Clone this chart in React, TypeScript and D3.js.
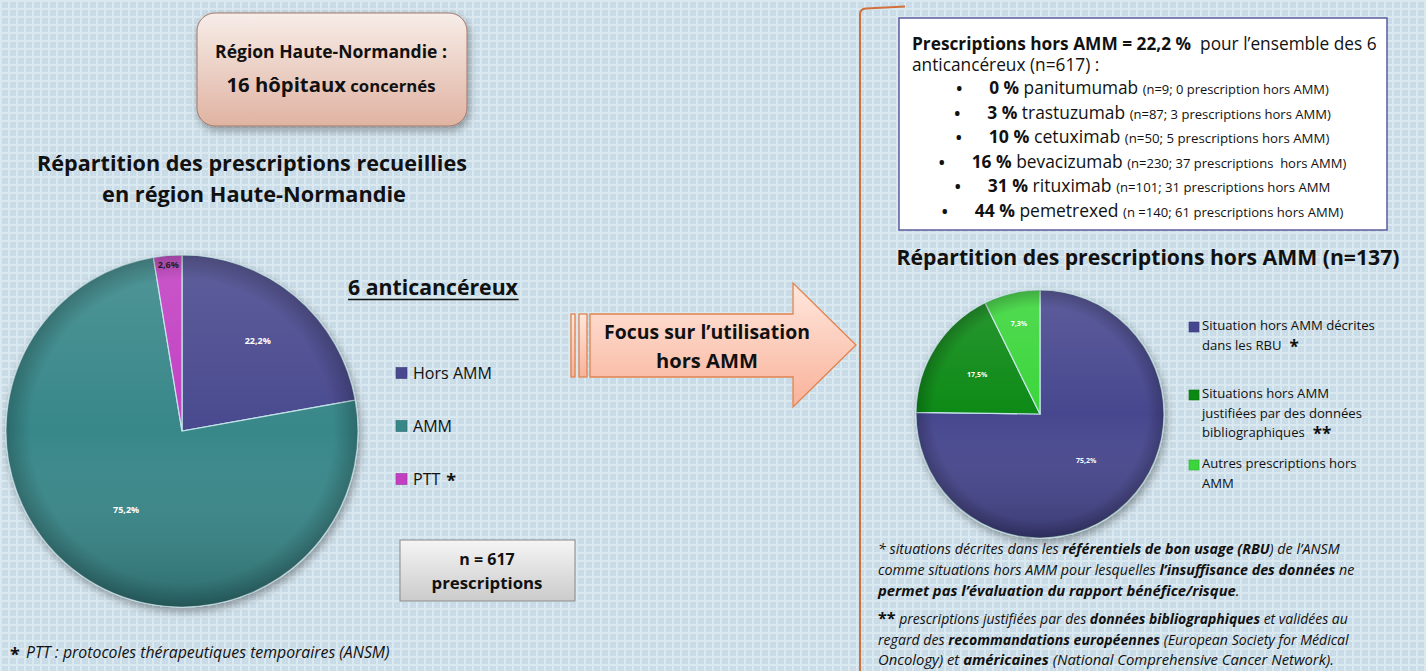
import React, { useEffect, useRef } from 'react';
import * as d3 from 'd3';

const W = 1426;
const H = 671;
const FONT = "'Open Sans', Lato, sans-serif";

// left pie : all prescriptions (n=617)
const allCategories = ['Hors AMM', 'AMM', 'PTT'];
const allValues = [22.2, 75.2, 2.6];
const allColors = ['#49498f', '#378789', '#c23fc2'];
const allMarks = ['', '', '*'];

// right pie : off-label prescriptions (n=137)
const horsLegend = [
  ['Situation hors AMM décrites', 'dans les RBU'],
  ['Situations hors AMM', 'justifiées par des données', 'bibliographiques'],
  ['Autres prescriptions hors', 'AMM'],
];
const horsMarks = ['*', '**', ''];
const horsValues = [75.2, 17.5, 7.3];
const horsColors = ['#47478f', '#0a8a12', '#3bd63b'];

// per-drug off-label rates
const drugPct = [0, 3, 10, 16, 31, 44];
const drugNames = ['panitumumab', 'trastuzumab', 'cetuximab', 'bevacizumab', 'rituximab', 'pemetrexed'];
const drugNotes = [
  '(n=9; 0 prescription hors AMM)',
  '(n=87; 3 prescriptions hors AMM)',
  '(n=50; 5 prescriptions hors AMM)',
  '(n=230; 37 prescriptions  hors AMM)',
  '(n=101; 31 prescriptions hors AMM',
  '(n =140; 61 prescriptions hors AMM)',
];
// widths the drug lines take in the original layout
const drugLineWidths = [340, 344, 341, 375, 343, 369];

type Part = { t: string; w?: string; s?: string; size?: number };
type TextSel = d3.Selection<SVGTextElement, unknown, null, undefined>;

const pctLabel = (v: number) => v.toFixed(1).replace('.', ',') + '%';

const App: React.FC = () => {
  const svgRef = useRef<SVGSVGElement>(null);

  useEffect(() => {
    const svg = d3.select(svgRef.current);
    svg.selectAll('*').remove();
    const defs = svg.append('defs');

    // --- background texture ---
    const pat = defs.append('pattern').attr('id', 'bgGrid')
      .attr('width', 8).attr('height', 8).attr('patternUnits', 'userSpaceOnUse');
    pat.append('rect').attr('width', 8).attr('height', 8).attr('fill', '#c9dbe6');
    pat.append('rect').attr('width', 8).attr('height', 2).attr('fill', '#dae8f0');
    pat.append('rect').attr('width', 2).attr('height', 8).attr('fill', '#dae8f0');
    pat.append('rect').attr('x', 5).attr('y', 5).attr('width', 1).attr('height', 1).attr('fill', '#d6e4ec');

    const lin = (id: string, stops: [number, string, number?][]) => {
      const g = defs.append('linearGradient').attr('id', id)
        .attr('x1', 0).attr('y1', 0).attr('x2', 0).attr('y2', 1);
      stops.forEach(([o, c, op]) => g.append('stop').attr('offset', o).attr('stop-color', c).attr('stop-opacity', op ?? 1));
    };
    lin('boxGrad', [[0, '#f7ede8'], [1, '#e0b3a2']]);
    lin('arrowGrad', [[0, '#ffe7dd'], [1, '#f9b29a']]);
    lin('nGrad', [[0, '#f5f5f5'], [1, '#cbcbcb']]);
    lin('shade', [[0, '#ffffff', 0.12], [0.5, '#ffffff', 0], [1, '#000000', 0.2]]);
    const rim = defs.append('radialGradient').attr('id', 'rim');
    rim.append('stop').attr('offset', 0.86).attr('stop-color', '#000').attr('stop-opacity', 0);
    rim.append('stop').attr('offset', 1).attr('stop-color', '#000').attr('stop-opacity', 0.22);

    const shadow = defs.append('filter').attr('id', 'shadow')
      .attr('x', '-20%').attr('y', '-20%').attr('width', '140%').attr('height', '140%');
    shadow.append('feDropShadow').attr('dx', 2).attr('dy', 4).attr('stdDeviation', 4)
      .attr('flood-color', '#000').attr('flood-opacity', 0.35);

    svg.append('rect').attr('width', W).attr('height', H).attr('fill', 'url(#bgGrid)');

    // rich text helper; when a width is given the font is scaled to take that width
    const rich = (x: number, y: number, parts: Part[], size: number, anchor = 'start', width?: number): TextSel => {
      const t = svg.append('text').attr('x', x).attr('y', y)
        .attr('font-family', FONT).attr('font-size', size).attr('fill', '#111')
        .attr('text-anchor', anchor).style('white-space', 'pre') as unknown as TextSel;
      const spans = parts.map(p => t.append('tspan')
        .attr('font-weight', p.w ?? 'normal')
        .attr('font-style', p.s ?? 'normal')
        .attr('font-size', p.size ?? size)
        .text(p.t));
      if (width) {
        const k = width / t.node()!.getComputedTextLength();
        t.attr('font-size', size * k);
        spans.forEach((s, i) => s.attr('font-size', (parts[i].size ?? size) * k));
      }
      return t;
    };

    // --- left header box ---
    svg.append('rect').attr('x', 197).attr('y', 13).attr('width', 270).attr('height', 113)
      .attr('rx', 18).attr('fill', 'url(#boxGrad)').attr('stroke', '#a0786a').attr('stroke-width', 1)
      .attr('filter', 'url(#shadow)');
    rich(331, 58, [{ t: 'Région Haute-Normandie :', w: 'bold' }], 17, 'middle', 232);
    rich(331, 92, [{ t: '16 hôpitaux', w: 'bold', size: 20 }, { t: ' concernés', w: 'bold', size: 16.5 }], 17, 'middle', 209);

    rich(252, 171, [{ t: 'Répartition des prescriptions recueillies', w: 'bold' }], 20, 'middle', 430);
    rich(254, 202, [{ t: 'en région Haute-Normandie', w: 'bold' }], 20, 'middle', 304);

    // --- pie drawer ---
    const drawPie = (cx: number, cy: number, r: number, values: number[], colors: string[],
      lblR: number[], lblColors: string[], lblSize: number) => {
      const g = svg.append('g').attr('transform', `translate(${cx},${cy})`);
      const arcs = d3.pie<number>().sort(null).value(d => d)(values);
      const arc = d3.arc<d3.PieArcDatum<number>>().innerRadius(0).outerRadius(r);
      const slices = g.append('g').attr('filter', 'url(#shadow)');
      slices.selectAll('path').data(arcs).join('path')
        .attr('d', arc)
        .attr('fill', (_d, i) => colors[i])
        .attr('stroke', '#c4e4ea').attr('stroke-width', 1.2);
      g.append('circle').attr('r', r).attr('fill', 'url(#shade)').attr('pointer-events', 'none');
      g.append('circle').attr('r', r).attr('fill', 'url(#rim)').attr('pointer-events', 'none');
      g.selectAll('text.lbl').data(arcs).join('text')
        .attr('class', 'lbl')
        .attr('transform', d => {
          const a = (d.startAngle + d.endAngle) / 2;
          const rr = r * lblR[d.index];
          return `translate(${Math.sin(a) * rr},${-Math.cos(a) * rr})`;
        })
        .attr('dy', '0.35em').attr('text-anchor', 'middle')
        .attr('font-family', FONT).attr('font-weight', 'bold').attr('font-size', lblSize)
        .attr('fill', (_d, i) => lblColors[i])
        .text(d => pctLabel(d.data));
    };

    drawPie(182, 431, 176, allValues, allColors, [0.67, 0.55, 0.95], ['#fff', '#fff', '#222'], 9);

    // left legend
    const t6 = rich(433, 295, [{ t: '6 anticancéreux', w: 'bold' }], 20, 'middle', 170);
    const bb = t6.node()!.getBBox();
    svg.append('line').attr('x1', bb.x).attr('x2', bb.x + bb.width)
      .attr('y1', 299.5).attr('y2', 299.5).attr('stroke', '#111').attr('stroke-width', 1.6);

    const ly = d3.scalePoint<string>().domain(allCategories).range([373, 479]);
    const probeL = rich(0, -50, [{ t: allCategories[0] }], 16, 'start', 79);
    const legSize = +probeL.attr('font-size');
    probeL.remove();
    allCategories.forEach((c, i) => {
      const y = ly(c)!;
      svg.append('rect').attr('x', 396).attr('y', y - 5.5).attr('width', 11).attr('height', 11)
        .attr('fill', allColors[i]).attr('stroke', d3.color(allColors[i])!.darker(0.6).formatHex()).attr('stroke-width', 0.6);
      const t = rich(413, y + 6, [{ t: c }], legSize);
      if (allMarks[i]) {
        const w = t.node()!.getComputedTextLength();
        rich(413 + w + 6, y + 8, [{ t: allMarks[i], w: 'bold' }], 18);
      }
    });

    // n box
    svg.append('rect').attr('x', 400).attr('y', 540).attr('width', 175).attr('height', 61)
      .attr('fill', 'url(#nGrad)').attr('stroke', '#8a8a8a').attr('stroke-width', 1);
    rich(487, 565, [{ t: 'n = 617', w: 'bold' }], 16, 'middle');
    rich(487, 589, [{ t: 'prescriptions', w: 'bold' }], 16, 'middle', 111);

    rich(10, 661, [{ t: '*', w: 'bold' }], 18);
    rich(26, 658, [{ t: 'PTT : protocoles thérapeutiques temporaires (ANSM)', s: 'italic' }], 14, 'start', 364);

    // --- arrow ---
    const arrow = svg.append('g').attr('fill', 'url(#arrowGrad)').attr('stroke', '#e0834f').attr('stroke-width', 1.3);
    arrow.append('rect').attr('x', 571).attr('y', 314).attr('width', 4).attr('height', 63);
    arrow.append('rect').attr('x', 579).attr('y', 314).attr('width', 8).attr('height', 63);
    arrow.append('path').attr('d', 'M590,314 L793,314 L793,283 L856,345 L793,407 L793,377 L590,377 Z');
    rich(707, 339, [{ t: 'Focus sur l’utilisation', w: 'bold' }], 17, 'middle', 206);
    rich(707, 368, [{ t: 'hors AMM', w: 'bold' }], 17, 'middle', 102);

    // bracket
    svg.append('path').attr('d', 'M860,671 L860,14 Q860,9 866,8.5 L905,6.5')
      .attr('fill', 'none').attr('stroke', '#d2703c').attr('stroke-width', 2);

    // --- right info box ---
    svg.append('rect').attr('x', 899).attr('y', 18).attr('width', 488).attr('height', 212)
      .attr('fill', '#fff').attr('stroke', '#5d5b9d').attr('stroke-width', 1.5);
    const l1 = rich(912, 50, [{ t: 'Prescriptions hors AMM = 22,2 %', w: 'bold' }, { t: '  pour l’ensemble des 6' }], 16, 'start', 465);
    const boxSize = +l1.attr('font-size');
    rich(912, 71, [{ t: 'anticancéreux (n=617) :' }], boxSize);
    const by = d3.scalePoint<string>().domain(drugNames).range([94, 217]);
    drugNames.forEach((name, i) => {
      const t = rich(1159, by(name)!, [
        { t: `${drugPct[i]} %`, w: 'bold' },
        { t: ` ${name} ` },
        { t: drugNotes[i], size: 12 },
      ], 16, 'middle', drugLineWidths[i]);
      const b = t.node()!.getBBox();
      rich(b.x - 33, by(name)!, [{ t: '•', w: 'bold' }], 16, 'start');
    });

    // --- right pie ---
    rich(1148, 265, [{ t: 'Répartition des prescriptions hors AMM (n=137)', w: 'bold' }], 21, 'middle', 503);
    drawPie(1040, 414, 124, horsValues, horsColors, [0.53, 0.6, 0.75], ['#fff', '#fff', '#fff'], 7);

    const legendTop = [330, 398, 468];
    const probe = rich(0, -50, [{ t: horsLegend[0][0] }], 13, 'start', 173);
    const legR = +probe.attr('font-size');
    probe.remove();
    horsLegend.forEach((lines, i) => {
      svg.append('rect').attr('x', 1189).attr('y', legendTop[i] - 8).attr('width', 10).attr('height', 10)
        .attr('fill', horsColors[i]).attr('stroke', d3.color(horsColors[i])!.darker(0.6).formatHex()).attr('stroke-width', 0.6);
      lines.forEach((ln, j) => {
        const y = legendTop[i] + j * 19.5;
        const t = rich(1202, y, [{ t: ln }], legR);
        if (j === lines.length - 1 && horsMarks[i]) {
          const w = t.node()!.getComputedTextLength();
          rich(1202 + w + 8, y + 3, [{ t: horsMarks[i], w: 'bold' }], 17);
        }
      });
    });

    // --- footnotes ---
    const fn: [number, number, Part[]][] = [
      [554, 462, [{ t: '* situations décrites dans les ' }, { t: 'référentiels de bon usage (RBU', w: 'bold' }, { t: ') de l’ANSM' }]],
      [575, 477, [{ t: 'comme situations hors AMM pour lesquelles ' }, { t: 'l’insuffisance des données', w: 'bold' }, { t: ' ne' }]],
      [596, 362, [{ t: 'permet pas l’évaluation du rapport bénéfice/risque', w: 'bold' }, { t: '.' }]],
      [624, 470, [{ t: '**', w: 'bold', s: 'normal', size: 15 }, { t: ' prescriptions justifiées par des ' }, { t: 'données bibliographiques', w: 'bold' }, { t: ' et validées au' }]],
      [645, 471, [{ t: 'regard des ' }, { t: 'recommandations européennes', w: 'bold' }, { t: ' (European Society for Médical' }]],
      [665, 456, [{ t: 'Oncology) et ' }, { t: 'américaines', w: 'bold' }, { t: ' (National Comprehensive Cancer Network).' }]],
    ];
    fn.forEach(([y, w, parts]) => {
      rich(878, y, parts.map(p => ({ ...p, s: p.s ?? 'italic' })), 13, 'start', w);
    });
  }, []);

  return (
    <svg
      ref={svgRef}
      width={W}
      height={H}
      viewBox={`0 0 ${W} ${H}`}
      style={{ position: 'absolute', left: 0, top: 0, display: 'block' }}
    />
  );
};

export default App;
